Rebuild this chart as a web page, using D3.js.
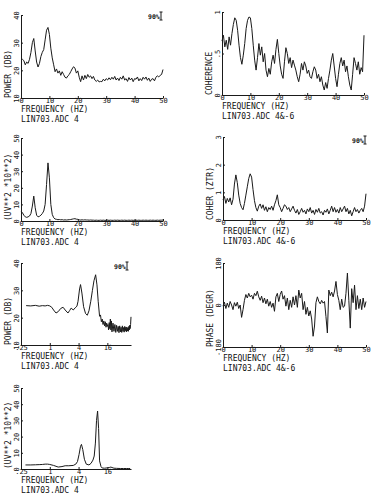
<!DOCTYPE html>
<html>
<head>
<meta charset="utf-8">
<script src="https://cdn.jsdelivr.net/npm/d3@7"></script>
<style>
body { margin:0; background:#fff; }
svg text { font-family:"DejaVu Sans Mono", monospace; font-size:8px; fill:#111; }
.axis path, .axis line { stroke:#1a1a1a; stroke-width:1; fill:none; }
.axis text { font-size:7px; }
.curve { fill:none; stroke:#1a1a1a; stroke-width:1; stroke-linejoin:round; }
.conf text { font-size:6.5px; font-weight:bold; fill:#111; }
</style>
</head>
<body>
<div id="container"></div>
<script>

// frequency grid of the linear spectra, 0.5 Hz steps
const freq_lin = d3.range(0, 50.01, 0.5);

const power_db = [24.4,24.0,23.5,22.0,23.0,22.5,24.0,26.5,30.0,31.5,
		  27.0,23.0,21.2,22.5,25.0,26.5,27.5,31.0,34.5,35.5,
		  33.0,28.0,24.5,22.0,19.5,20.5,19.0,19.8,18.2,19.5,
		  18.5,17.5,17.2,18.0,18.5,19.5,20.5,21.3,20.8,19.0,
		  19.8,17.5,15.9,18.0,16.5,18.2,17.0,18.5,17.5,18.0,
		  17.0,17.8,16.5,16.0,16.5,15.8,16.0,15.9,16.8,16.2,
		  17.0,16.5,17.3,16.6,17.5,16.8,17.8,16.5,17.2,16.3,
		  17.5,16.8,18.0,16.5,17.0,16.0,17.4,16.5,17.2,15.9,
		  17.0,16.8,17.6,16.2,17.0,16.3,17.5,16.8,17.6,16.4,
		  17.2,16.0,16.8,17.0,16.2,17.5,18.0,17.6,18.2,18.5,
		  20.3];

const coherence = [0.65,0.72,0.58,0.66,0.55,0.70,0.60,0.74,0.85,0.93,
		   0.90,0.78,0.60,0.45,0.37,0.48,0.62,0.80,0.90,0.94,
		   0.93,0.80,0.60,0.42,0.30,0.45,0.62,0.48,0.58,0.40,
		   0.50,0.30,0.22,0.32,0.25,0.40,0.48,0.38,0.55,0.67,
		   0.50,0.35,0.25,0.20,0.40,0.57,0.50,0.38,0.45,0.33,
		   0.42,0.36,0.30,0.22,0.16,0.25,0.38,0.30,0.40,0.35,
		   0.26,0.30,0.22,0.20,0.28,0.34,0.30,0.20,0.25,0.16,
		   0.22,0.12,0.06,0.15,0.08,0.20,0.30,0.42,0.50,0.35,
		   0.20,0.10,0.25,0.38,0.45,0.35,0.42,0.28,0.35,0.22,
		   0.12,0.06,0.25,0.45,0.38,0.30,0.40,0.25,0.33,0.28,
		   0.72];

const uv2 = [6,5,3.5,2.5,2.2,2.5,3,4.5,9,15,
	     8,3.5,2.5,2.8,3.5,4.5,6,10,22,35,
	     26,10,4,2,1.2,1,0.8,0.9,0.7,0.8,
	     0.6,0.7,0.6,0.7,0.8,0.9,1.1,1.3,1.4,1.1,
	     1,0.7,0.6,0.7,0.6,0.7,0.6,0.6,0.5,0.6,
	     0.5,0.5,0.4,0.5,0.4,0.4,0.5,0.4,0.5,0.4,
	     0.4,0.5,0.4,0.5,0.4,0.4,0.5,0.4,0.5,0.4,
	     0.4,0.5,0.4,0.5,0.4,0.4,0.5,0.4,0.5,0.4,
	     0.4,0.5,0.4,0.5,0.4,0.4,0.5,0.4,0.5,0.4,
	     0.4,0.5,0.4,0.5,0.4,0.4,0.5,0.4,0.5,0.5,
	     0.6];

const coher_ztr = [0.73,0.85,0.60,0.78,0.65,0.80,0.55,0.75,1.30,1.63,
		   1.35,0.90,0.60,0.45,0.37,0.60,0.90,1.20,1.50,1.67,
		   1.55,1.10,0.70,0.45,0.32,0.50,0.58,0.42,0.55,0.35,
		   0.48,0.30,0.45,0.38,0.50,0.35,0.55,0.70,0.91,0.55,
		   0.45,0.30,0.42,0.55,0.50,0.38,0.45,0.30,0.40,0.50,
		   0.35,0.25,0.38,0.20,0.30,0.42,0.28,0.35,0.22,0.40,
		   0.30,0.45,0.25,0.35,0.20,0.38,0.28,0.42,0.25,0.30,
		   0.18,0.35,0.28,0.40,0.22,0.35,0.50,0.30,0.45,0.28,
		   0.38,0.25,0.45,0.30,0.40,0.50,0.30,0.42,0.22,0.35,
		   0.15,0.30,0.45,0.30,0.38,0.25,0.35,0.42,0.30,0.50,
		   0.95];

const phase_degr = [-5,12,-15,8,-10,15,0,-20,10,-5,
		    12,-15,0,-53,-20,20,45,30,50,35,
		    42,25,50,40,59,35,20,38,10,30,
		    5,25,-5,15,-10,8,-27,35,50,15,
		    45,60,25,40,-5,30,-20,20,-10,35,
		    0,40,-10,64,30,50,-20,15,-40,-10,
		    -47,-25,-60,-134,-90,10,35,15,5,20,
		    8,15,-50,-120,64,40,55,35,60,101,
		    45,20,-20,25,-10,-5,50,137,20,-99,
		    70,10,85,-20,40,-15,25,-20,30,-10,
		    15];

// log-frequency spectra
const freq_log_power = [0.32,0.4,0.5,0.6,0.7,0.8,0.9,1.0,
			1.1,1.2,1.35,1.5,1.7,1.9,2.1,2.4,2.6,2.8,3.1,3.4,
			3.7,3.9,4.2,4.4,4.7,5.1,5.6,6.1,6.6,7.2,7.8,8.4,
			9.1,9.7,10.3,11,
			11.5,12,12.5,13,13.5,14,14.5,15,15.5,16,16.5,17,17.5,18,18.5,19,19.5,20,
			21,22,23,24,25,26,27,28,29,30,
			31,32,33,34,35,36,37,38,39,40,
			41,42,43,44,45,46,47,48,49,50];
const power_db_log = [24.4,24.3,24.5,24.2,24.4,24.3,24.5,24.3,
		      23.8,22.8,21.7,22.2,23.4,23.8,22.8,21.7,22.6,23.5,22.8,23.6,
		      24.2,26,30.5,32.1,29,24,21.5,20.9,22.5,26,30,33.5,
		      35.7,32,26,20.5,
		      21,18.5,19.5,17.5,18.8,17,18.5,16.5,18,16.8,17.5,15.5,18.2,16,19.5,15.5,18.8,14.8,
		      18,15,17.5,14.6,17.2,15,16.8,14.5,17,14.8,
		      16.5,14.6,17,15,16.4,14.7,16.8,15.2,16.5,14.8,
		      16.6,15.1,16.2,15,16.8,15.5,17.2,16,17.5,20.3];

const freq_log_uv2 = [0.31,0.4,0.5,0.6,0.7,0.8,0.9,1.0,
		      1.2,1.5,1.8,2.1,2.5,3.1,3.5,3.8,4.1,4.4,4.6,4.9,
		      5.3,5.8,6.6,7.3,8.0,8.5,9.0,9.5,10.0,10.5,11.0,
		      11.8,12.5,14,16,18,19,20,22,25,30,35,40,45,48];
const uv2_log = [2.5,2.5,2.6,2.7,2.8,3.0,3.0,2.8,
		 2.2,1.2,1.5,2.0,2.0,2.2,3,4.6,9,14,15.2,12,
		 6,3,2.5,3.5,5.5,8,16,30,35.8,25,5,
		 1.5,0.6,0.5,0.7,1.0,1.2,0.9,0.5,0.4,0.3,0.3,0.3,0.3,0.3];

const lin_ticks = [0,10,20,30,40,50];
const log_ticks = [0.25,1,4,16];
const log_tick_labels = [".25","1","4","16"];

var panels = [
    {x0:21, x1:163, y0:98, y1:15, log:false, ydom:[10,40], yticks:[10,20,30,40], ylabels:["10","20","30","40"],
     ytitle:"POWER (DB)", fx:freq_lin, fy:power_db, src:"LIN703.ADC 4", conf:[148,19]},
    {x0:222, x1:364, y0:95, y1:12, log:false, ydom:[0,1], yticks:[0,0.5,1], ylabels:["0",".5","1"],
     ytitle:"COHERENCE", fx:freq_lin, fy:coherence, src:"LIN703.ADC 4&-6", conf:null},
    {x0:21, x1:163, y0:221, y1:138, log:false, ydom:[0,50], yticks:[0,10,20,30,40,50], ylabels:["0","10","20","30","40","50"],
     ytitle:"(UV**2 *10**2)", fx:freq_lin, fy:uv2, src:"LIN703.ADC 4", conf:null},
    {x0:223, x1:366, y0:220, y1:137, log:false, ydom:[0,3], yticks:[0,1,2,3], ylabels:["0","1","2","3"],
     ytitle:"COHER (ZTR)", fx:freq_lin, fy:coher_ztr, src:"LIN703.ADC 4&-6", conf:[352,143]},
    {x0:21, x1:131, y0:345, y1:263, log:true, ydom:[10,40], yticks:[10,20,30,40], ylabels:["10","20","30","40"],
     ytitle:"POWER (DB)", fx:freq_log_power, fy:power_db_log, src:"LIN703.ADC 4", conf:[114,269]},
    {x0:223, x1:366, y0:347, y1:263, log:false, ydom:[-180,180], yticks:[-180,0,180], ylabels:["-180","0","180"],
     ytitle:"PHASE (DEGR)", fx:freq_lin, fy:phase_degr, src:"LIN703.ADC 4&-6", conf:null},
    {x0:21, x1:131, y0:469, y1:388, log:true, ydom:[0,50], yticks:[0,10,20,30,40,50], ylabels:["0","10","20","30","40","50"],
     ytitle:"(UV**2 *10**2)", fx:freq_log_uv2, fy:uv2_log, src:"LIN703.ADC 4", conf:null}
];

var svg = d3.select("#container").append("svg")
    .attr("width", 375)
    .attr("height", 500);

var draw_panel = function(p){

    var x = p.log
	? d3.scaleLog().base(4).domain([0.25, 50]).range([p.x0, p.x1])
	: d3.scaleLinear().domain([0, 50]).range([p.x0, p.x1]);
    var y = d3.scaleLinear().domain(p.ydom).range([p.y0, p.y1]);

    var g = svg.append("g");

    // x axis, ticks pointing up into the plot
    var xa = p.log
	? d3.axisBottom(x).tickValues(log_ticks).tickFormat(function(d, i){ return log_tick_labels[i]; })
	: d3.axisBottom(x).tickValues(lin_ticks).tickFormat(d3.format("d"));
    g.append("g")
	.classed("axis", true)
	.attr("transform", "translate(0," + p.y0 + ")")
	.call(xa.tickSize(-2).tickSizeOuter(0))
	.selectAll("text")
	.attr("y", 0.5)
	.attr("dy", "0.71em");

    // y axis, labels rotated
    var ya = d3.axisLeft(y).tickValues(p.yticks)
	.tickFormat(function(d, i){ return p.ylabels[i]; })
	.tickSize(-2).tickSizeOuter(0);
    g.append("g")
	.classed("axis", true)
	.attr("transform", "translate(" + p.x0 + ",0)")
	.call(ya)
	.selectAll("text")
	.attr("x", 0)
	.attr("dy", 0)
	.attr("text-anchor", "middle")
	.attr("transform", "translate(-2,0) rotate(-90)");

    g.append("text")
	.attr("transform", "translate(" + (p.x0 - 10) + "," + p.y0 + ") rotate(-90)")
	.text(p.ytitle);

    g.append("text")
	.attr("x", p.x0)
	.attr("y", p.y0 + 14)
	.text("FREQUENCY (HZ)");

    g.append("text")
	.attr("x", p.x0)
	.attr("y", p.y0 + 24)
	.text(p.src);

    var line = d3.line()
	.x(function(d){ return x(d[0]); })
	.y(function(d){ return y(d[1]); });

    g.append("path")
	.classed("curve", true)
	.attr("d", line(d3.zip(p.fx, p.fy)));

    if (p.conf){
	var c = g.append("g").classed("conf", true);
	c.append("text")
	    .attr("x", p.conf[0])
	    .attr("y", p.conf[1])
	    .text("90%");
	var bx = p.conf[0] + 13, by = p.conf[1];
	c.append("path")
	    .attr("d", "M" + (bx-1.5) + "," + (by-7) + "H" + (bx+1.5)
		  + "M" + bx + "," + (by-7) + "V" + (by+1)
		  + "M" + (bx-1.5) + "," + (by+1) + "H" + (bx+1.5))
	    .style("stroke", "#1a1a1a")
	    .style("fill", "none");
    }
};

panels.forEach(draw_panel);

</script>
</body>
</html>
